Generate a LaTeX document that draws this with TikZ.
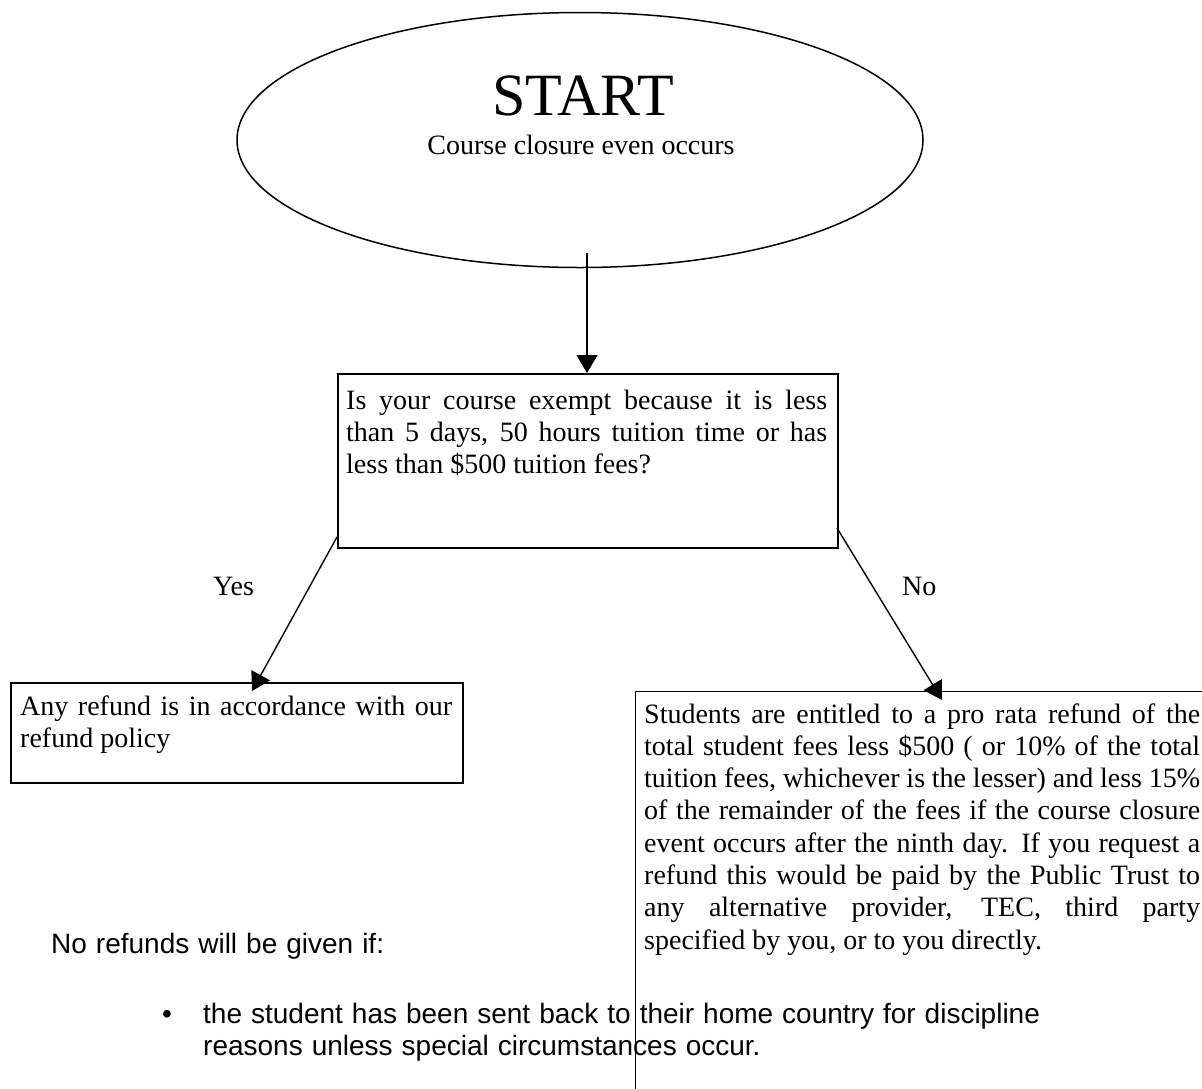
\documentclass[tikz,border=0pt]{standalone}
\usepackage{fontspec}
\setmainfont{Liberation Serif}
\newfontfamily\arialfont{Liberation Sans}
\usetikzlibrary{arrows.meta,shapes.geometric}
\tikzset{
  shapebox/.style={draw, line width=1.6pt, inner sep=0pt, anchor=north west},
  bodytext/.style={anchor=base west, inner sep=0pt, align=justify,
    font=\fontsize{28}{32.3}\selectfont,
    execute at begin node={\tolerance=10000\hyphenpenalty=10000\emergencystretch=0pt}},
  plaintext/.style={anchor=base west, inner sep=0pt, font=\fontsize{28}{32.3}\selectfont},
  sanstext/.style={anchor=base west, inner sep=0pt, font=\arialfont\fontsize{28}{32}\selectfont,
    execute at begin node={\spaceskip=9pt\relax}},
  arr/.style={line width=1.4pt, -{Triangle[length=18pt,width=21pt]}},
}
\begin{document}
\begin{tikzpicture}[x=1pt,y=-1pt]
\useasboundingbox (0,0) rectangle (1202,1088);
\fill[white] (0,0) rectangle (1202,1088);
\clip (0,0) rectangle (1202,1088);

% start ellipse
\node[draw, ellipse, line width=1.5pt, inner sep=0pt, minimum width=686pt, minimum height=255pt] (start) at (580,140) {};
\node[anchor=base, inner sep=0pt, font=\fontsize{60}{60}\selectfont] (starttitle) at (583,115) {START};
\node[anchor=base, inner sep=0pt, font=\fontsize{28}{32}\selectfont] (startsub) at (581,154) {Course closure even occurs};

% decision box
\node[shapebox, minimum width=500pt, minimum height=174pt] (q) at (337,373) {};
\node[bodytext, text width=481pt] (qtext) at (346,409) {Is your course exempt because it is less\linebreak than 5 days, 50 hours tuition time or has\linebreak less than \$500 tuition fees?};

% yes box
\node[shapebox, minimum width=452pt, minimum height=100pt] (yesbox) at (10,682) {};
\node[bodytext, text width=432pt] (yestext) at (20,715) {Any refund is in accordance with our\linebreak refund policy};

% no box (extends beyond the page)
\node[shapebox, line width=1.4pt, minimum width=700pt, minimum height=500pt] (nobox) at (635,691) {};
\node[bodytext, text width=556pt] (notext) at (644,723) {Students are entitled to a pro rata refund of the\linebreak total student fees less \$500 ( or 10\% of the total\linebreak tuition fees, whichever is the lesser) and less 15\%\linebreak of the remainder of the fees if the course closure\linebreak event occurs after the ninth day. If you request a\linebreak refund this would be paid by the Public Trust to\linebreak any alternative provider, TEC, third party\linebreak specified by you, or to you directly.};

% labels
\node[plaintext] (yeslabel) at (213,595) {Yes};
\node[plaintext] (nolabel) at (902,595) {No};

% connectors
\coordinate (a0) at (587,253);
\draw[arr] (a0) -- (a0 |- q.north);
\coordinate (y0) at (337,537);
\coordinate (y1) at (252,691);
\draw[arr] (y0) -- (y1);
\coordinate (n0) at (837,528);
\coordinate (n1) at (942,700);
\draw[arr] (n0) -- (n1);

% bottom notes
\node[sanstext] (norefund) at (51,953) {No refunds will be given if:};
\node[sanstext] (bullet) at (162,1023) {•};
\node[sanstext, text width=950pt, align=left] (bullettext) at (203,1023) {the student has been sent back to their home country for discipline\\reasons unless special circumstances occur.};
\end{tikzpicture}
\end{document}
